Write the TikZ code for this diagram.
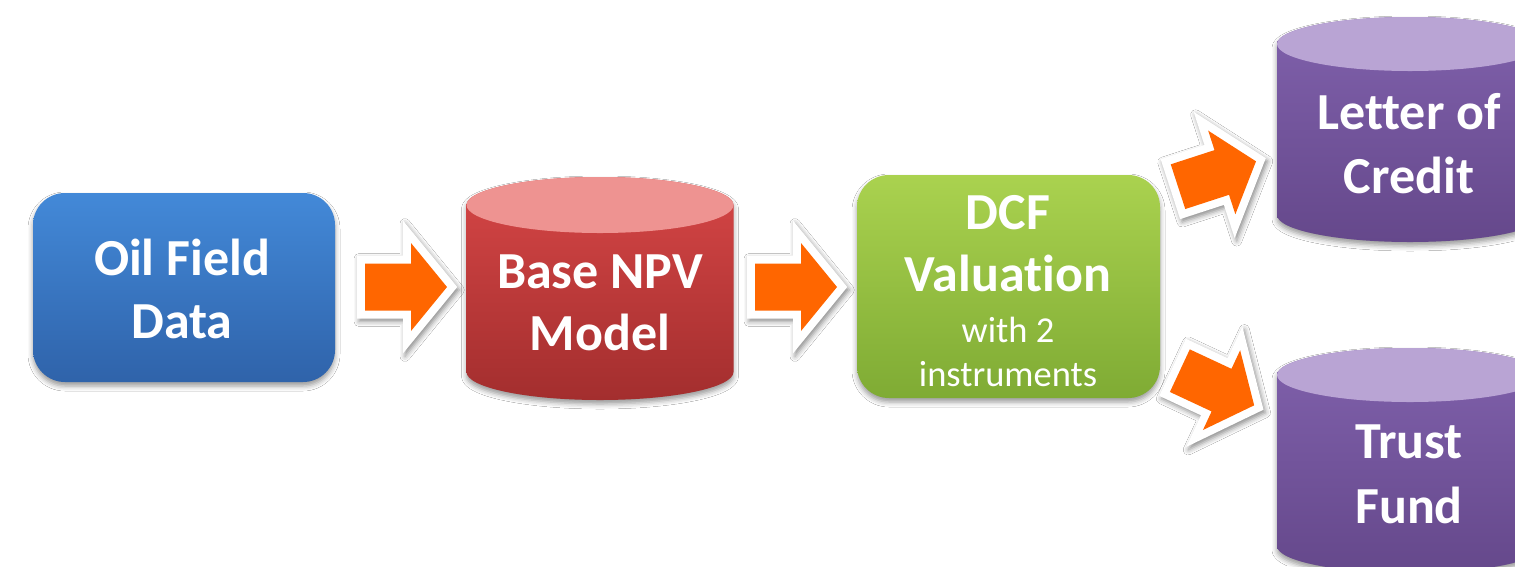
\documentclass[tikz,border=0pt]{standalone}
\usepackage{fontspec}
\setmainfont{Carlito}[Ligatures=CommonOff]
\usetikzlibrary{shadows.blur}
\definecolor{blueT}{HTML}{4389D8}
\definecolor{blueB}{HTML}{2F63AA}
\definecolor{redT}{HTML}{D64646}
\definecolor{redB}{HTML}{A32E2E}
\definecolor{redTop}{HTML}{EE9391}
\definecolor{greenT}{HTML}{AAD24F}
\definecolor{greenB}{HTML}{7FAB34}
\definecolor{purT}{HTML}{8061AC}
\definecolor{purB}{HTML}{65488B}
\definecolor{purTop}{HTML}{B9A4D4}
\definecolor{arrowOrange}{HTML}{FF6600}
\newcommand\bigf{\fontsize{52}{63.5}\selectfont\bfseries}
\newcommand\gbig{\fontsize{52}{62}\selectfont\bfseries}
\newcommand\smallf{\fontsize{36.5}{44.5}\selectfont}
\newcommand\drawcyl[8]{%
  \path[blur shadow={shadow xshift=0pt,shadow yshift=-4pt,shadow blur radius=5pt,shadow opacity=40},
        top color=#6, bottom color=#7]
    (#1-#4,#2) -- (#1-#4,#3)
    arc[start angle=180,end angle=0,x radius=#4,y radius=#5]
    -- (#1+#4,#2)
    arc[start angle=0,end angle=-180,x radius=#4,y radius=#5] -- cycle;
  \fill[#8] (#1,#2) ellipse[x radius=#4,y radius=#5];
}
\tikzset{
  lbl/.style={text=white, align=center, inner sep=0pt, anchor=base},
  flowbox/.style={rounded corners=32pt, inner sep=0pt,
    blur shadow={shadow xshift=0pt,shadow yshift=-4pt,shadow blur radius=5pt,shadow opacity=40}},
  holder/.style={inner sep=0pt},
  pics/blockarrow/.style={code={
    \fill[white, blur shadow={shadow xshift=2pt,shadow yshift=-3pt,shadow blur radius=5pt,shadow opacity=45}]
      (-49,-31.5) -- (-3,-31.5) -- (-3,-66.4) -- (51.3,0) -- (-3,66.4) -- (-3,31.5) -- (-49,31.5) -- cycle;
    \fill[arrowOrange]
      (-41,-23.5) -- (5,-23.5) -- (5,-44) -- (41,0) -- (5,44) -- (5,23.5) -- (-41,23.5) -- cycle;
  }}
}
\begin{document}
\begin{tikzpicture}[x=1pt,y=-1pt]
\useasboundingbox (0,0) rectangle (1515,566);
\clip (0,0) rectangle (1515,566);
\fill[white] (0,0) rectangle (1515,566);

% Oil Field Data
\node[flowbox, top color=blueT, bottom color=blueB, minimum width=302pt, minimum height=189pt] (oil) at (184,287.5) {};
\node[lbl, font=\bigf] (oiltext) at (182,338.5) {Oil Field\\Data};

% Base NPV Model
\drawcyl{600}{205}{372}{133.5}{28}{redT}{redB}{redTop}
\node[holder, minimum width=267pt, minimum height=223pt] (npv) at (600,288.5) {};
\node[lbl, font=\bigf] (npvtext) at (600,350) {Base NPV\\[-1.5pt]Model};

% DCF Valuation
\node[flowbox, top color=greenT, bottom color=greenB, minimum width=303pt, minimum height=223pt] (dcf) at (1008.5,286.5) {};
\node[lbl, font=\gbig] (dcftitle) at (1008,291.7) {DCF\\Valuation};
\node[lbl, font=\smallf] (dcfsub) at (1008,386.7) {with 2\\instruments};

% Letter of Credit
\drawcyl{1410}{44}{215}{133}{27}{purT}{purB}{purTop}
\node[holder, minimum width=266pt, minimum height=226pt] (loc) at (1410,130) {};
\node[lbl, font=\bigf] (loctext) at (1409,193) {Letter of\\Credit};

% Trust Fund
\drawcyl{1410}{375}{546}{133}{27}{purT}{purB}{purTop}
\node[holder, minimum width=266pt, minimum height=226pt] (tf) at (1410,461) {};
\node[lbl, font=\bigf] (tftext) at (1409,523) {Trust\\[1.5pt]Fund};

% block arrows
\pic at (406,287) {blockarrow};
\pic at (796,287) {blockarrow};
\pic[rotate=18] at (1217,174) {blockarrow};
\pic[rotate=-25] at (1217,388) {blockarrow};
\end{tikzpicture}
\end{document}
